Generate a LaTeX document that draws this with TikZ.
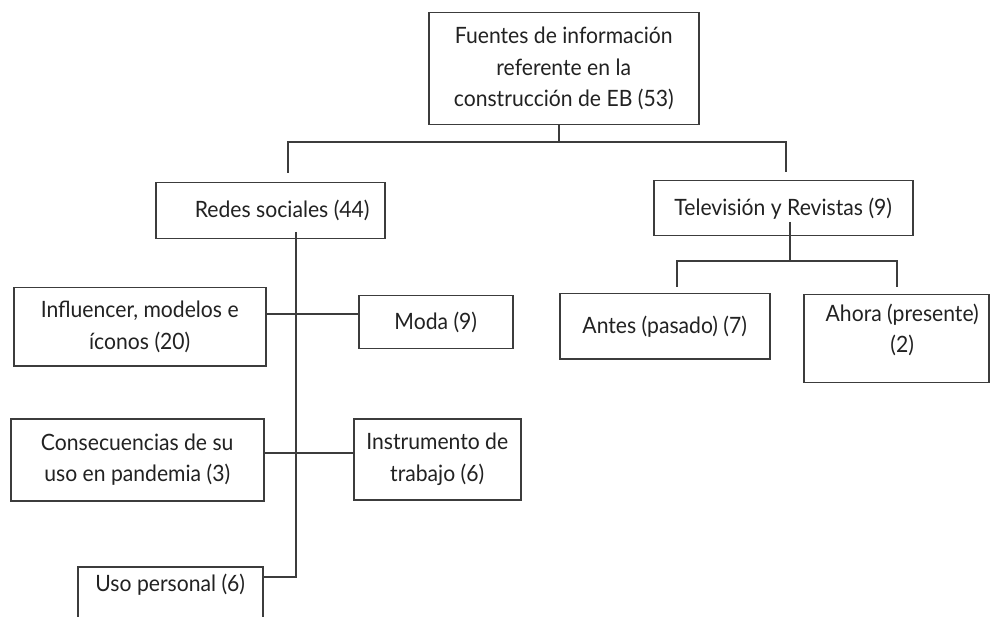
\documentclass[tikz,border=0pt]{standalone}
\usepackage{fontspec}
\setmainfont[FakeStretch=0.94]{Lato}
\definecolor{linec}{HTML}{3C3C3C}
\definecolor{textc}{HTML}{222222}
\begin{document}
\begin{tikzpicture}[x=1pt,y=-1pt,
  box/.style={draw=linec, line width=1.5pt, anchor=north west, align=center,
    inner sep=2pt, font=\fontsize{22.5}{31.5}\selectfont, text=textc},
  conn/.style={draw=linec, line width=1.5pt}]
\clip (0,0) rectangle (990,617);
\fill[white] (0,0) rectangle (990,617);
\useasboundingbox (0,0) rectangle (990,617);

% boxes
\node[box, minimum width=270, minimum height=112] (top) at (428,12)
  {Fuentes de información\\referente en la\\construcción de EB (53)};
\node[box, minimum width=229, minimum height=56] (redes) at (155,182)
  {\hspace*{24pt}Redes sociales (44)};
\node[box, minimum width=259, minimum height=55] (tv) at (653,180)
  {Televisión y Revistas (9)};
\node[box, minimum width=252, minimum height=78] (influ) at (13,287)
  {Influencer, modelos e\\íconos (20)};
\node[box, minimum width=154, minimum height=53] (moda) at (358,295)
  {Moda (9)};
\node[box, minimum width=253, minimum height=82] (cons) at (10,418)
  {Consecuencias de su\\uso en pandemia (3)};
\node[box, minimum width=167, minimum height=81] (instr) at (353,418)
  {Instrumento de\\trabajo (6)};
\node[box, minimum width=185, inner ysep=7pt, text depth=40pt] (uso) at (77,566)
  {Uso personal (6)};
\node[box, minimum width=210, minimum height=65] (antes) at (559,293)
  {Antes (pasado) (7)};
\node[box, minimum width=185, inner ysep=9pt, text depth=21pt] (ahora) at (803,294)
  {\hspace*{12pt}Ahora (presente)\\\hspace*{12pt}(2)};

% junction points
\coordinate (j0) at (559,142);
\coordinate (jl) at (288,142);
\coordinate (jr) at (786,142);
\coordinate (dl) at (288,173);
\coordinate (dr) at (786,172);
\coordinate (rs) at (296,232);
\coordinate (rb) at (296,577);
\coordinate (h1) at (296,314);
\coordinate (h2) at (296,453);
\coordinate (ts) at (790,222);
\coordinate (tj) at (790,261);
\coordinate (tl) at (677,261);
\coordinate (tr) at (897,261);
\coordinate (tld) at (677,287);
\coordinate (trd) at (897,287);

% connectors
\draw[conn] (j0 |- top.south) -- (j0);
\draw[conn] (dl) -- (jl) -- (jr) -- (dr);
\draw[conn] (rs) -- (rb) -- (uso.east |- rb);
\draw[conn] (influ.east |- h1) -- (moda.west |- h1);
\draw[conn] (cons.east |- h2) -- (instr.west |- h2);
\draw[conn] (ts) -- (tj);
\draw[conn] (tld) -- (tl) -- (tr) -- (trd);
\end{tikzpicture}
\end{document}
